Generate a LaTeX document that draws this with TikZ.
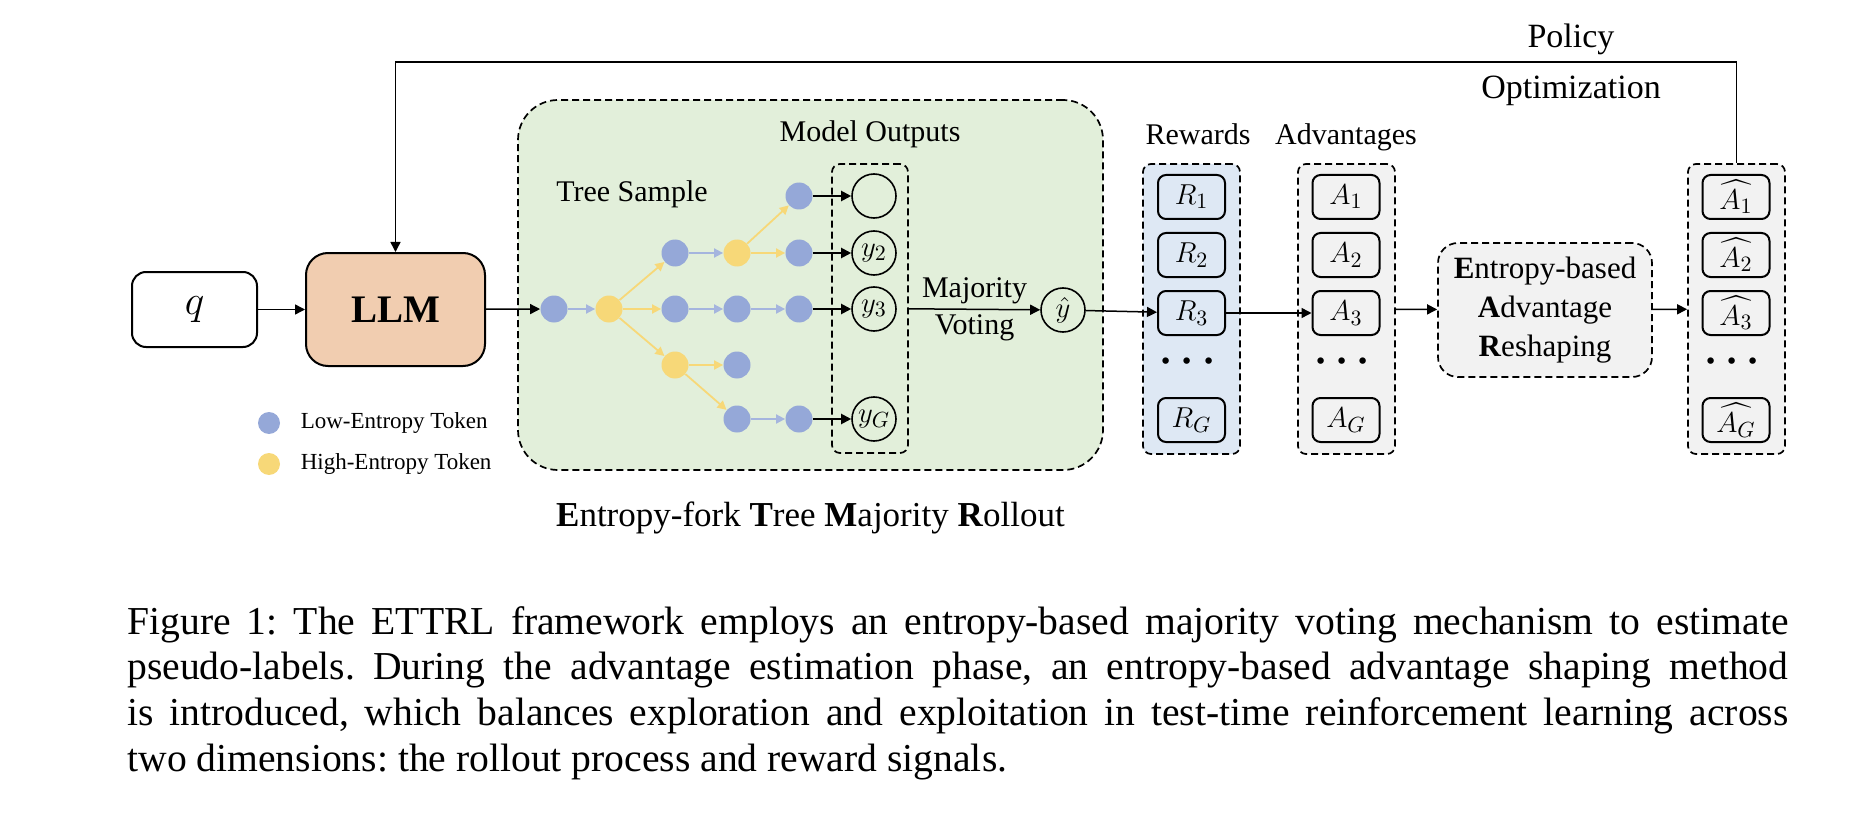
\documentclass[tikz,border=0pt]{standalone}
\usepackage{amsmath, amssymb}
\usepackage{fontspec}
\setmainfont{Liberation Serif}
\usetikzlibrary{positioning, arrows.meta, calc}

\definecolor{llmorange}{HTML}{F1CDB0}
\definecolor{rollgreen}{HTML}{E2EFDA}
\definecolor{rwdblue}{HTML}{DEE8F4}
\definecolor{advgray}{HTML}{F2F2F2}
\definecolor{lowblue}{HTML}{95A8D8}
\definecolor{highyellow}{HTML}{F7D878}

\begin{document}
\begin{tikzpicture}[
    x=0.5pt, y=-0.5pt,
    box/.style={rectangle, draw, line width=1pt, rounded corners=4pt, inner sep=0pt, align=center},
    dgroup/.style={rectangle, draw, line width=0.85pt, dash pattern=on 3.5pt off 2pt, rounded corners=4pt, minimum width=48.5pt, minimum height=145pt},
    cell/.style={box, minimum width=33.5pt, minimum height=22pt, font=\fontsize{15}{15}\selectfont},
    lowtok/.style={circle, fill=lowblue, minimum size=13.5pt, inner sep=0pt},
    hightok/.style={circle, fill=highyellow, minimum size=13.5pt, inner sep=0pt},
    outc/.style={circle, draw, line width=0.8pt, minimum size=22pt, inner sep=0pt, font=\fontsize{15}{15}\selectfont},
    lbl/.style={inner sep=0pt, font=\fontsize{15}{18}\selectfont},
    vdots/.style={font=\fontsize{22}{22}\selectfont\boldmath},
    arrow/.style={-{Triangle[length=5pt,width=5pt]}, line width=0.75pt},
    lowarrow/.style={-{Triangle[length=4.5pt,width=4.5pt]}, line width=0.9pt, draw=lowblue!85, fill=lowblue!85},
    higharrow/.style={-{Triangle[length=4.5pt,width=4.5pt]}, line width=0.9pt, draw=highyellow, fill=highyellow}
]
\useasboundingbox (0,0) rectangle (1860,824);

% Nodes
\node[box, rounded corners=7pt, minimum width=62.5pt, minimum height=37.5pt, font=\fontsize{22}{22}\selectfont] (q) at (194.5,309.5) {$q$};
\node[box, rounded corners=11pt, fill=llmorange, minimum width=89.5pt, minimum height=56.5pt, right=23.5pt of q, font=\fontsize{19.5}{20}\selectfont\bfseries] (llm) {LLM};

% Rollout block
\node[dgroup, fill=rollgreen, rounded corners=20pt, minimum width=292.5pt, minimum height=185pt] (rollout) at (810.5,285) {};
\node[lbl, anchor=base] (treelbl) at (632,202) {Tree Sample};
\node[lbl, anchor=base] (outlbl) at (870,142) {Model Outputs};
\node[dgroup, minimum width=38pt, minimum height=144.5pt] (outs) at (870,308.5) {};

% Tree tokens
\node[lowtok] (t1) at (554,309) {};
\node[hightok] (t2) at (609,309) {};
\node[lowtok] (t3) at (675,253) {};
\node[lowtok] (t4) at (675,309) {};
\node[hightok] (t5) at (675,365) {};
\node[hightok] (t6) at (737,253) {};
\node[lowtok] (t7) at (737,309) {};
\node[lowtok] (t8) at (737,365) {};
\node[lowtok] (t9) at (737,419) {};
\node[lowtok] (t10) at (799,196) {};
\node[lowtok] (t11) at (799,253) {};
\node[lowtok] (t12) at (799,309) {};
\node[lowtok] (t13) at (799,419) {};

% Model outputs
\node[outc] (o1) at (874,196) {};
\node[outc] (o2) at (874,253) {$y_2$};
\node[outc] (o3) at (874,309) {$y_3$};
\node[outc] (oG) at (874,419) {$y_G$};
\node[outc] (yhat) at (1063,310) {$\hat{y}$};

% Rewards
\node[dgroup, fill=rwdblue] (rwd) at (1191.5,309) {};
\node[lbl, anchor=base] (rwdlbl) at (1198,145) {Rewards};
\node[cell, fill=rwdblue] (R1) at (1191.5,197) {$R_1$};
\node[cell, fill=rwdblue, below=6pt of R1] (R2) {$R_2$};
\node[cell, fill=rwdblue, below=6pt of R2] (R3) {$R_3$};
\node[vdots] (Rdots) at (1191.5,362) {$\cdots$};
\node[cell, fill=rwdblue] (RG) at (1191.5,420) {$R_G$};

% Advantages
\node[dgroup, fill=advgray] (adv) at (1346.5,309) {};
\node[lbl, anchor=base] (advlbl) at (1346,145) {Advantages};
\node[cell, fill=advgray] (A1) at (1346,197) {$A_1$};
\node[cell, fill=advgray, below=6pt of A1] (A2) {$A_2$};
\node[cell, fill=advgray, below=6pt of A2] (A3) {$A_3$};
\node[vdots] (Adots) at (1346,362) {$\cdots$};
\node[cell, fill=advgray] (AG) at (1346,420) {$A_G$};

% Reshaping and reshaped advantages
\node[dgroup, fill=advgray, rounded corners=10pt, minimum width=107pt, minimum height=67pt, align=center, font=\fontsize{15.5}{19.3}\selectfont] (ear) at (1545,310) {\textbf{E}ntropy-based\\\textbf{A}dvantage\\\textbf{R}eshaping};
\node[dgroup, fill=advgray] (ahat) at (1736.5,309) {};
\node[cell, fill=advgray] (H1) at (1736,197) {$\widehat{A_1}$};
\node[cell, fill=advgray, below=6pt of H1] (H2) {$\widehat{A_2}$};
\node[cell, fill=advgray, below=6pt of H2] (H3) {$\widehat{A_3}$};
\node[vdots] (Hdots) at (1736,362) {$\cdots$};
\node[cell, fill=advgray] (HG) at (1736,420) {$\widehat{A_G}$};

% Connections
\draw[arrow] (q) -- (llm);
\draw[arrow] (llm) -- (t1);
\draw[lowarrow] (t1) -- (t2);
\draw[higharrow] (t2) -- (t3);
\draw[higharrow] (t2) -- (t4);
\draw[higharrow] (t2) -- (t5);
\draw[lowarrow] (t3) -- (t6);
\draw[higharrow] (t6) -- (t10);
\draw[higharrow] (t6) -- (t11);
\draw[lowarrow] (t4) -- (t7);
\draw[lowarrow] (t7) -- (t12);
\draw[higharrow] (t5) -- (t8);
\draw[higharrow] (t5) -- (t9);
\draw[lowarrow] (t9) -- (t13);
\draw[arrow, line width=1pt] (t10) -- (o1);
\draw[arrow, line width=1pt] (t11) -- (o2);
\draw[arrow, line width=1pt] (t12) -- (o3);
\draw[arrow, line width=1pt] (t13) -- (oG);
\draw[arrow] (outs) -- node[lbl, above, inner sep=2.5pt] {Majority} node[lbl, below, inner sep=2.5pt] {Voting} (yhat);
\draw[arrow] (yhat) -- (R3);
\draw[arrow] (R3) -- (A3);
\draw[arrow] (adv) -- (ear);
\draw[arrow] (ear) -- (ahat);

% Policy optimization loop
\coordinate (fbtop) at (1000,62);
\draw[arrow] (ahat.north) -- (ahat.north |- fbtop) -| (llm.north);
\node[anchor=base, inner sep=0pt, font=\fontsize{17}{17}\selectfont] (policy) at (1571,48) {Policy};
\node[anchor=base, inner sep=0pt, font=\fontsize{17}{17}\selectfont] (optim) at (1571,99) {Optimization};

% Legend
\node[lowtok, minimum size=11pt] (lglow) at (269,423) {};
\node[hightok, minimum size=11pt] (lghigh) at (269,464) {};
\node[right=10pt of lglow, inner sep=0pt, font=\fontsize{11.5}{12}\selectfont] (lglowtxt) {Low-Entropy Token};
\node[right=10pt of lghigh, inner sep=0pt, font=\fontsize{11.5}{12}\selectfont] (lghightxt) {High-Entropy Token};

% Labels and caption
\node[anchor=base, inner sep=0pt, font=\fontsize{17.5}{18}\selectfont] (rolllbl) at (810.5,526) {\textbf{E}ntropy-fork \textbf{T}ree \textbf{M}ajority \textbf{R}ollout};
\node[anchor=north west, inner sep=0pt, text width=830.5pt, align=justify, font=\fontsize{19.8}{22.85}\selectfont] (caption) at (127,606) {%
\frenchspacing\spaceskip=0.25em plus 1em minus 0.05em\relax
Figure 1: The ETTRL framework employs an entropy-based majority voting mechanism to estimate\linebreak
pseudo-labels. During the advantage estimation phase, an entropy-based advantage shaping method\linebreak
is introduced, which balances exploration and exploitation in test-time reinforcement learning across\linebreak
two dimensions: the rollout process and reward signals.};

\end{tikzpicture}
\end{document}
